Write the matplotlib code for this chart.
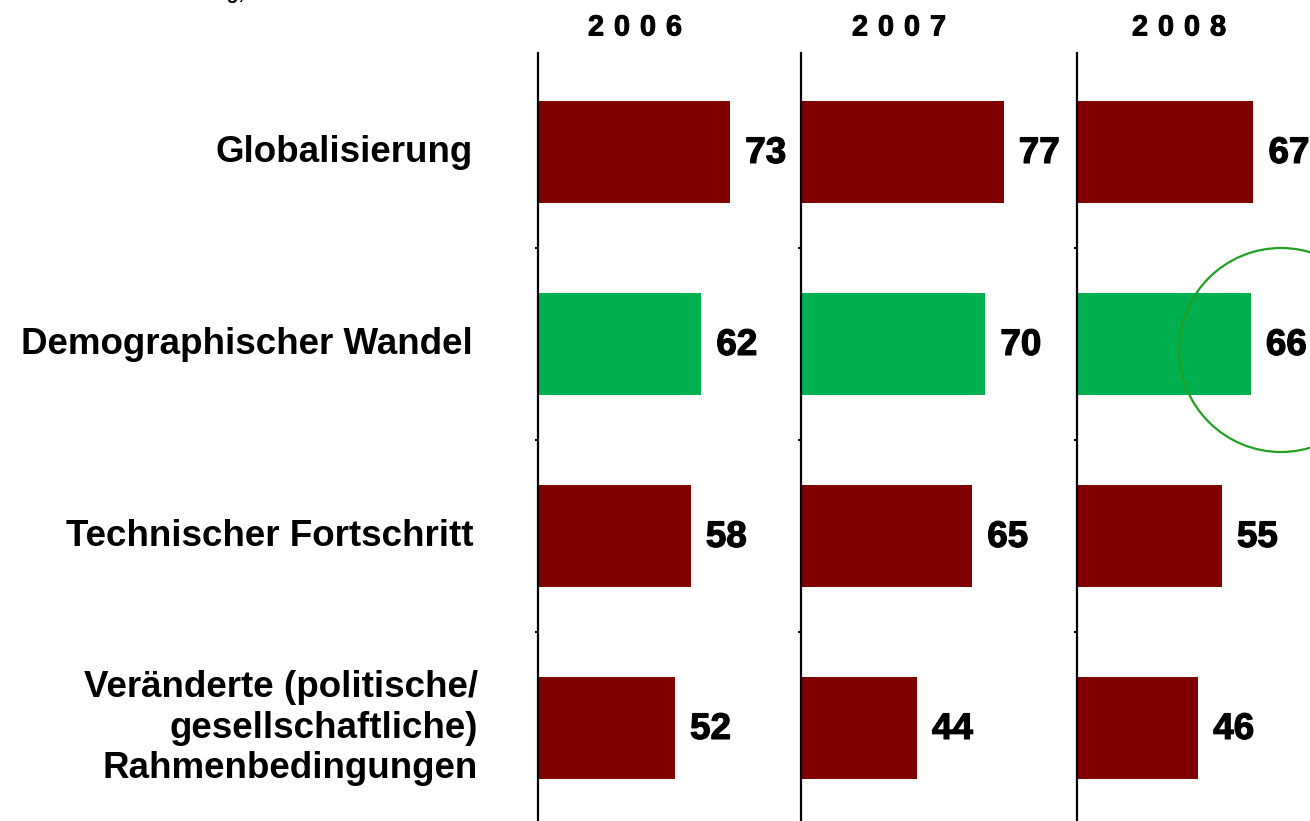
import matplotlib
matplotlib.use("Agg")
import matplotlib.pyplot as plt
import matplotlib.patheffects as pe
from matplotlib.patches import Ellipse

# ---------------- data ----------------
categories = ["Globalisierung", "Demographischer Wandel", "Technischer Fortschritt",
              "Veränderte (politische/\ngesellschaftliche)\nRahmenbedingungen"]
years = ["2006", "2007", "2008"]
values_2006 = [73, 62, 58, 52]
values_2007 = [77, 70, 65, 44]
values_2008 = [67, 66, 55, 46]
series = [values_2006, values_2007, values_2008]
highlight = "Demographischer Wandel"

# ---------------- style ----------------
W, H = 1310, 821
DPI = 100
FONT = "Liberation Sans"
RED = "#800000"
GREEN = "#00B050"
CIRCLE = "#22A022"
PX_PER_UNIT = 2.63

fig = plt.figure(figsize=(W / DPI, H / DPI), dpi=DPI)
fig.patch.set_facecolor("white")

def fx(px):
    return px / W

def fy(py):
    return 1 - py / H

panel_left = [538, 801, 1077]
panel_right = [801, 1077, W]
year_centers = [635, 899, 1179]
top_px, bottom_px = 53, 830
row0_px, row_step = 152, 192

ylim_top = (top_px - row0_px) / row_step
ylim_bot = (bottom_px - row0_px) / row_step

heavy = [pe.withStroke(linewidth=0.9, foreground="black")]

for k, (vals, yr) in enumerate(zip(series, years)):
    l, r = panel_left[k], panel_right[k]
    ax = fig.add_axes([fx(l), fy(bottom_px), fx(r - l), (bottom_px - top_px) / H])
    ax.set_xlim(0, (r - l) / PX_PER_UNIT)
    ax.set_ylim(ylim_bot, ylim_top)
    ax.patch.set_alpha(0)
    colors = [GREEN if c == highlight else RED for c in categories]
    ypos = list(range(len(categories)))
    ax.barh(ypos, vals, height=0.53, color=colors, zorder=2)
    for y, v in zip(ypos, vals):
        ax.annotate(str(v), xy=(v, y), xytext=(11, -1), textcoords="offset points",
                    ha="left", va="center", fontsize=26.5, fontweight="bold",
                    family=FONT, color="black", annotation_clip=False,
                    path_effects=heavy)
    for s in ["top", "right", "bottom"]:
        ax.spines[s].set_visible(False)
    ax.spines["left"].set_linewidth(1.6)
    ax.set_xticks([])
    ax.set_yticks([0.5, 1.5, 2.5])
    ax.set_yticklabels([])
    ax.tick_params(axis="y", length=2, width=1.5, direction="out")
    for j, ch in enumerate(yr):
        fig.text(fx(year_centers[k] + (j - 1.5) * 26), fy(27.5), ch,
                 ha="center", va="center", fontsize=21, fontweight="bold",
                 family=FONT, path_effects=[pe.withStroke(linewidth=0.6, foreground="black")])

# category labels
for i, cat in enumerate(categories):
    right = 478 if "\n" in cat else 473
    fig.text(fx(right), fy(row0_px + i * row_step), cat, ha="right", va="center",
             fontsize=26.5, fontweight="bold", family=FONT, linespacing=1.22,
             multialignment="right")

# cut-off note at the top-left (only its descenders are visible in the reference)
fig.text(fx(245), fy(-1), "Mehrfachnennung,", ha="right", va="baseline",
         fontsize=14, fontweight="bold", family=FONT)

# highlight circle
circ = Ellipse((fx(1281), fy(350)), width=204 / W, height=204 / H,
               transform=fig.transFigure, fill=False, edgecolor=CIRCLE,
               linewidth=1.6, zorder=10)
fig.add_artist(circ)

fig.savefig("out.png", dpi=DPI, facecolor="white")
